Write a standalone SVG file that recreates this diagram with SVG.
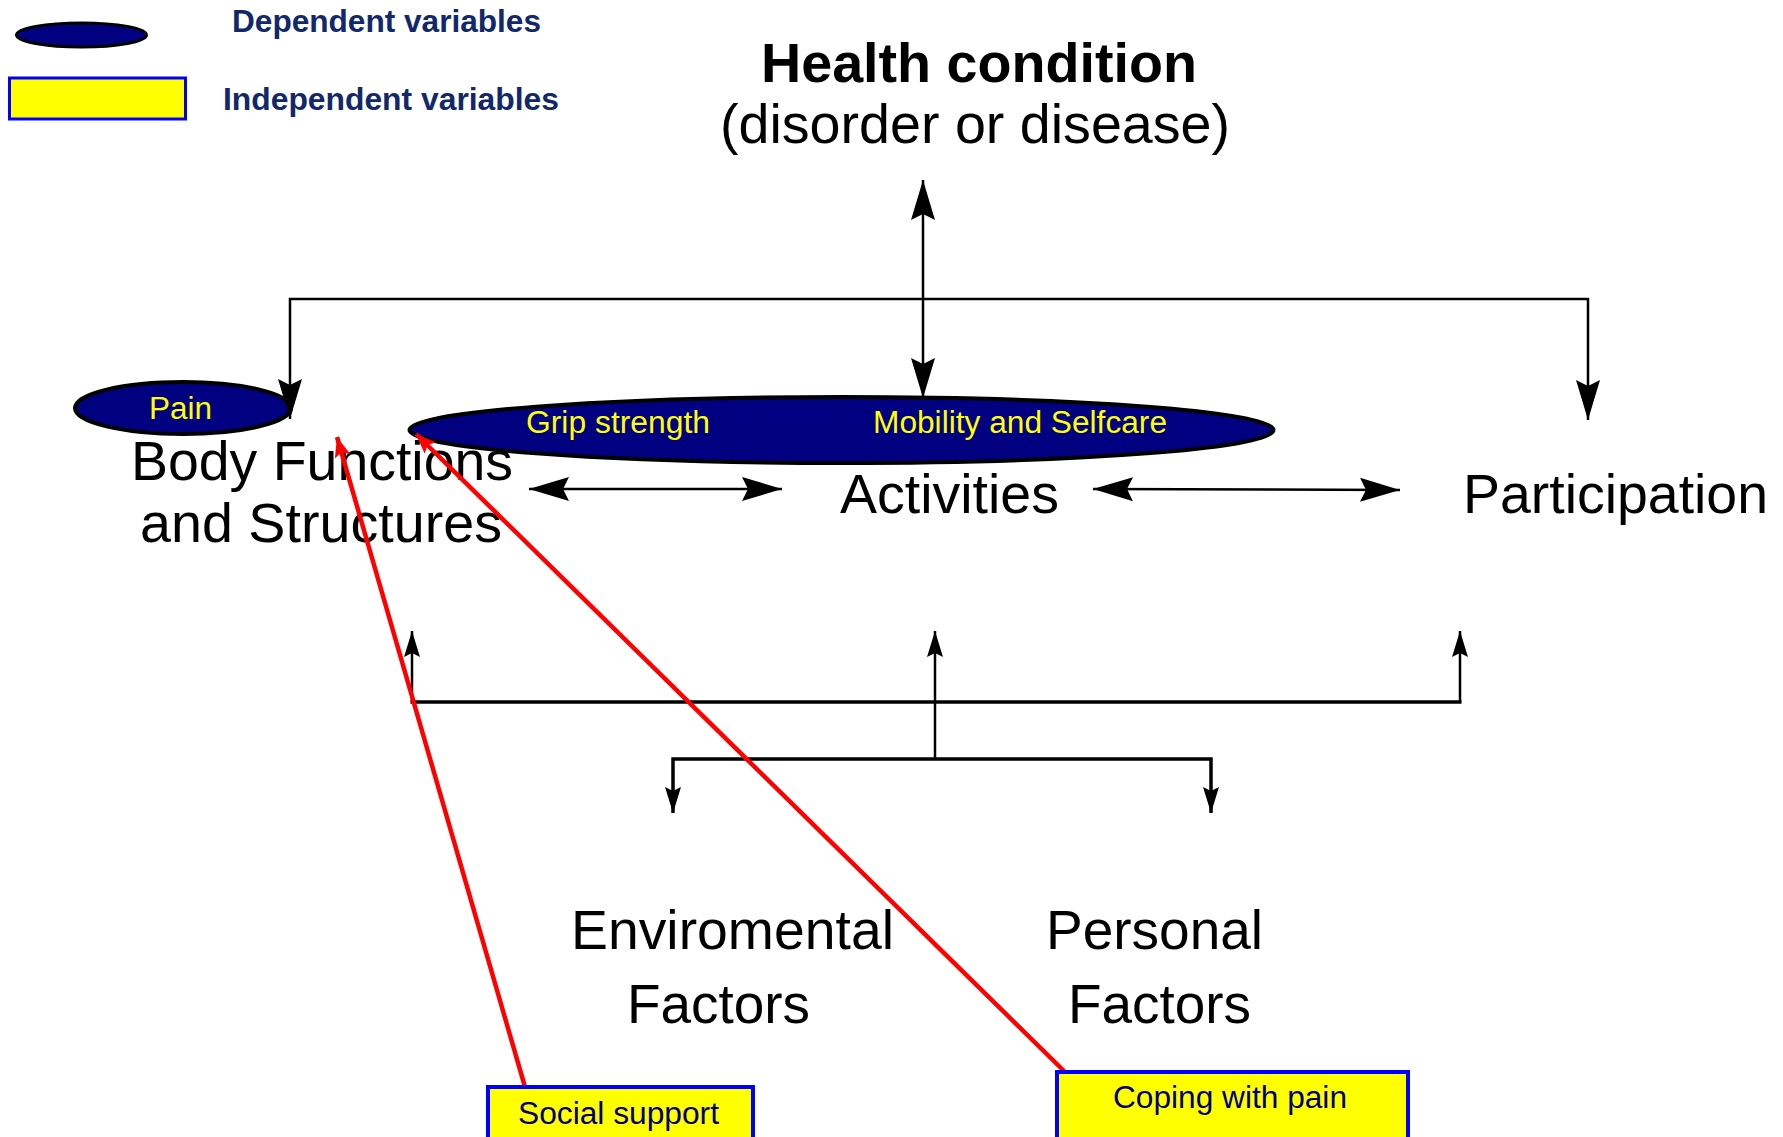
<svg xmlns="http://www.w3.org/2000/svg" width="1783" height="1137" viewBox="0 0 1783 1137">
<style>
  .lbl { font-family: "Liberation Sans", Arial, sans-serif; font-size: 55px; fill: #000000; }
  .big { font-size: 56px; }
  .bold { font-weight: bold; }
  .leg { font-family: "Liberation Sans", Arial, sans-serif; font-size: 31px; font-weight: bold; fill: #12286b; }
  .yel { font-family: "Liberation Sans", Arial, sans-serif; font-size: 31px; fill: #ffff00; }
  .box { fill: #ffff00; stroke: #0000ff; stroke-width: 4; }
  .boxt { font-family: "Liberation Sans", Arial, sans-serif; font-size: 31px; fill: #000080; }
  .dep { fill: #000080; stroke: #000000; stroke-width: 4; }
  .con { fill: none; stroke: #000000; stroke-width: 2.5; }
  .bus { fill: none; stroke: #000000; stroke-width: 3.5; }
  .red { fill: none; stroke: #ff0000; stroke-width: 4.5; }
</style>
<defs>
  <marker id="ah" markerUnits="userSpaceOnUse" viewBox="-42 -14 44 28" refX="0" refY="0" markerWidth="44" markerHeight="28" orient="auto-start-reverse">
    <path d="M0,0 L-40,-12 L-34,0 L-40,12 Z" fill="#000000"/>
  </marker>
  <marker id="ahs" markerUnits="userSpaceOnUse" viewBox="-28 -10 30 20" refX="0" refY="0" markerWidth="30" markerHeight="20" orient="auto-start-reverse">
    <path d="M0,0 L-26,-8 L-22,0 L-26,8 Z" fill="#000000"/>
  </marker>
  <marker id="ahr" markerUnits="userSpaceOnUse" viewBox="-22 -10 24 20" refX="0" refY="0" markerWidth="24" markerHeight="20" orient="auto">
    <path d="M0,0 L-20,-8 L-16,0 L-20,8 Z" fill="#ff0000"/>
  </marker>
</defs>
<rect width="1783" height="1137" fill="#ffffff"/>

<g id="legend">
  <ellipse cx="81.5" cy="35" rx="65" ry="12" fill="#000080" stroke="#000000" stroke-width="3"/>
  <text class="leg" x="232" y="32" textLength="309" lengthAdjust="spacingAndGlyphs">Dependent variables</text>
  <rect x="9.5" y="78" width="176" height="41" fill="#ffff00" stroke="#0000ff" stroke-width="3"/>
  <text class="leg" x="223" y="110" textLength="336" lengthAdjust="spacingAndGlyphs">Independent variables</text>
</g>

<g id="health-condition">
  <text class="lbl big bold" x="761" y="82" textLength="436" lengthAdjust="spacingAndGlyphs">Health condition</text>
  <text class="lbl big" x="720" y="143" textLength="510" lengthAdjust="spacingAndGlyphs">(disorder or disease)</text>
</g>

<g id="pain">
  <ellipse class="dep" cx="183" cy="408" rx="108" ry="26"/>
  <text class="yel" x="149" y="419" textLength="63" lengthAdjust="spacingAndGlyphs">Pain</text>
</g>

<g id="activity-variables">
  <ellipse class="dep" cx="841.5" cy="430" rx="432" ry="33"/>
  <text class="yel" x="526" y="433" textLength="184" lengthAdjust="spacingAndGlyphs">Grip strength</text>
  <text class="yel" x="873" y="433" textLength="294" lengthAdjust="spacingAndGlyphs">Mobility and Selfcare</text>
</g>

<g id="body-functions">
  <text class="lbl" x="131" y="480" textLength="382" lengthAdjust="spacingAndGlyphs">Body Functions</text>
  <text class="lbl" x="140" y="542" textLength="362" lengthAdjust="spacingAndGlyphs">and Structures</text>
</g>

<g id="activities">
  <text class="lbl" x="840" y="513" textLength="219" lengthAdjust="spacingAndGlyphs">Activities</text>
</g>

<g id="participation">
  <text class="lbl" x="1463" y="513" textLength="305" lengthAdjust="spacingAndGlyphs">Participation</text>
</g>

<g id="environmental-factors">
  <text class="lbl" x="571" y="949" textLength="323" lengthAdjust="spacingAndGlyphs">Enviromental</text>
  <text class="lbl" x="627" y="1023" textLength="183" lengthAdjust="spacingAndGlyphs">Factors</text>
</g>

<g id="personal-factors">
  <text class="lbl" x="1046" y="949" textLength="217" lengthAdjust="spacingAndGlyphs">Personal</text>
  <text class="lbl" x="1068" y="1023" textLength="183" lengthAdjust="spacingAndGlyphs">Factors</text>
</g>

<g id="connectors">
  <line class="con" x1="923" y1="180" x2="923" y2="398" marker-start="url(#ah)" marker-end="url(#ah)"/>
  <path class="con" d="M290,419 L290,299 L1588,299 L1588,420" marker-start="url(#ah)" marker-end="url(#ah)"/>
  <line class="con" x1="529" y1="489" x2="782" y2="489" marker-start="url(#ah)" marker-end="url(#ah)"/>
  <line class="con" x1="1093" y1="489" x2="1400" y2="490" marker-start="url(#ah)" marker-end="url(#ah)"/>
  <line class="con" x1="412" y1="702" x2="412" y2="631" marker-end="url(#ahs)"/>
  <line class="con" x1="1460" y1="702" x2="1460" y2="631" marker-end="url(#ahs)"/>
  <line class="bus" x1="410.5" y1="702" x2="1461.5" y2="702"/>
  <line class="con" x1="935" y1="759" x2="935" y2="631" marker-end="url(#ahs)"/>
  <path class="bus" d="M673,813 L673,759 L1211,759 L1211,813" marker-start="url(#ahs)" marker-end="url(#ahs)"/>
  <line class="red" x1="525" y1="1087" x2="337" y2="437" marker-end="url(#ahr)"/>
  <line class="red" x1="1064" y1="1071" x2="416" y2="434" marker-end="url(#ahr)"/>
</g>

<g id="social-support">
  <rect class="box" x="488" y="1087" width="265" height="70"/>
  <text class="boxt" x="518" y="1124" textLength="201" lengthAdjust="spacingAndGlyphs">Social support</text>
</g>

<g id="coping-with-pain">
  <rect class="box" x="1057" y="1072" width="351" height="85"/>
  <text class="boxt" x="1113" y="1108" textLength="234" lengthAdjust="spacingAndGlyphs">Coping with pain</text>
</g>
</svg>
